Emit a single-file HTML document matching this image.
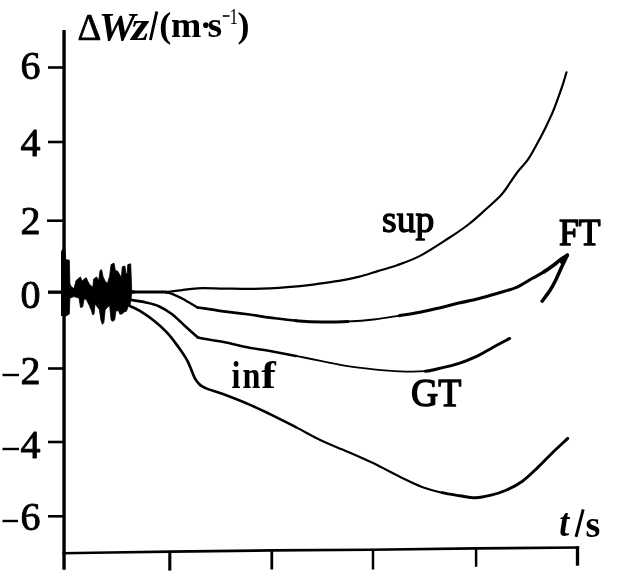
<!DOCTYPE html>
<html><head><meta charset="utf-8"><title>chart</title>
<style>html,body{margin:0;padding:0;background:#fff;}svg{display:block;filter:grayscale(1);}</style>
</head><body>
<svg width="618" height="585" viewBox="0 0 618 585">
<rect width="618" height="585" fill="#fff"/>
<g stroke="#000" fill="none" stroke-linecap="butt">
<!-- axes -->
<line x1="64.05" y1="30" x2="64.05" y2="569.8" stroke-width="3.4"/>
<polyline points="62.4,553.2 110,552.5 170,551.6 272,550.4 370,549.8 476,548.4 579.1,547.5" stroke-width="2.6" stroke-linejoin="round"/>
<!-- y ticks -->
<g stroke-width="2.6">
<line x1="48" y1="67.5" x2="63" y2="67.5"/>
<line x1="48" y1="142" x2="63" y2="142"/>
<line x1="47" y1="220.7" x2="63" y2="220.7"/>
<line x1="48" y1="292.4" x2="63" y2="292.4"/>
<line x1="48" y1="368.5" x2="63" y2="368.5"/>
<line x1="48" y1="442" x2="63" y2="442"/>
<line x1="48" y1="516.3" x2="63" y2="516.3"/>
</g>
<!-- x ticks -->
<line x1="169.8" y1="551" x2="169.8" y2="570.6" stroke-width="3.1"/>
<line x1="271.8" y1="550" x2="271.8" y2="569.5" stroke-width="2.8"/>
<line x1="373" y1="549.5" x2="373" y2="569.5" stroke-width="2.5"/>
<line x1="476.1" y1="548" x2="476.1" y2="566.8" stroke-width="2.5"/>
<line x1="577.5" y1="546.3" x2="577.5" y2="565.7" stroke-width="3.3"/>
<!-- curves -->
<g stroke-linejoin="round" stroke-linecap="round">
<path d="M130.4,292.0C136.4,292.0 160.6,292.0 166.6,292.0" stroke-width="3.0"/>
<path d="M166.6,292.0C168.8,291.7 174.8,290.9 180.0,290.3C185.2,289.7 190.4,288.6 197.7,288.3C205.0,288.0 215.0,288.5 223.6,288.6C232.2,288.7 241.8,288.9 249.5,288.9C257.2,288.9 261.6,288.8 270.0,288.4C278.4,287.9 291.8,287.0 300.0,286.2C308.2,285.4 312.9,284.6 319.4,283.7C325.9,282.8 332.3,281.9 338.8,280.8C345.3,279.7 351.8,278.5 358.3,276.9C364.8,275.3 371.2,273.1 377.7,271.1C384.2,269.2 390.1,267.7 397.1,265.2C404.2,262.7 411.6,260.3 420.0,255.9C428.4,251.5 439.6,244.0 447.7,238.8C455.8,233.6 461.9,229.5 468.4,224.5C474.9,219.5 481.3,213.4 486.5,208.8C491.7,204.2 496.3,200.0 499.5,196.8C502.7,193.6 502.5,193.6 505.5,189.5C508.5,185.4 513.8,176.9 517.5,172.0C521.2,167.1 524.4,164.6 527.7,159.9C531.0,155.2 534.1,149.1 537.1,143.7C540.1,138.3 543.1,132.5 545.6,127.4C548.1,122.3 550.4,117.6 552.4,112.9C554.4,108.2 555.9,104.0 557.6,99.3C559.3,94.6 561.2,89.3 562.7,84.8C564.2,80.3 565.9,74.4 566.5,72.3" stroke-width="2.2"/>
<path d="M166.0,292.3C167.0,292.6 169.3,292.8 172.0,293.8C174.7,294.8 177.8,296.2 182.1,298.5C186.4,300.8 195.1,306.0 197.7,307.5" stroke-width="2.4"/>
<path d="M197.7,307.5C199.8,307.8 206.3,308.8 210.6,309.4C214.9,310.0 217.1,310.5 223.6,311.4C230.1,312.2 241.8,313.5 249.5,314.5C257.2,315.5 262.3,316.6 270.0,317.6C277.7,318.6 287.3,320.0 295.9,320.7" stroke-width="2.7"/>
<path d="M295.9,320.7C304.5,321.4 313.2,321.9 321.8,322.0C330.4,322.1 339.1,321.9 347.7,321.5" stroke-width="3.0"/>
<path d="M347.7,321.5C356.3,321.1 365.0,320.5 373.6,319.5C382.2,318.5 391.8,316.8 399.5,315.6" stroke-width="1.9"/>
<path d="M399.5,315.6C407.2,314.4 413.4,313.5 420.0,312.2C426.6,310.9 432.9,309.4 439.4,307.9C445.9,306.4 452.3,304.6 458.8,303.1C465.3,301.6 471.8,300.3 478.3,298.7C484.8,297.1 491.2,295.2 497.7,293.3C504.2,291.4 511.4,289.6 517.1,287.1C522.8,284.6 527.5,281.0 532.0,278.5C536.5,276.0 540.3,274.1 543.9,271.9" stroke-width="3.1"/>
<path d="M543.9,271.9C547.5,269.7 550.7,267.4 553.5,265.3C556.3,263.2 558.4,261.1 560.7,259.4C563.0,257.7 566.2,255.9 567.3,255.2" stroke-width="3.6"/>
<path d="M567.3,255.2C566.4,257.1 563.8,262.4 561.9,266.5C560.0,270.6 557.9,275.7 555.9,279.7C553.9,283.7 552.2,286.9 549.9,290.5C547.6,294.1 543.4,299.4 542.1,301.2" stroke-width="3.5"/>
<path d="M130.4,299.8C133.0,300.2 141.2,301.3 145.9,302.4C150.6,303.5 154.5,304.3 158.8,306.2C163.1,308.1 167.5,310.8 171.8,314.0C176.1,317.2 180.4,321.8 184.7,325.7C189.0,329.6 195.5,335.4 197.7,337.3" stroke-width="2.6"/>
<path d="M197.7,337.3C198.5,337.5 198.5,337.8 202.8,338.6C207.1,339.4 215.8,340.5 223.6,342.0C231.4,343.5 241.8,346.2 249.5,347.7C257.2,349.2 262.3,349.6 270.0,351.0C277.7,352.4 287.3,354.2 295.9,355.9" stroke-width="2.5"/>
<path d="M295.9,355.9C304.5,357.6 313.2,359.4 321.8,361.1C330.4,362.8 339.1,364.8 347.7,366.2C356.3,367.6 364.9,368.5 373.6,369.4C382.3,370.3 391.4,371.1 400.0,371.4C408.6,371.7 418.7,371.7 425.2,371.2" stroke-width="1.8"/>
<path d="M425.2,371.2C431.7,370.7 433.3,369.8 438.8,368.5C444.3,367.2 451.8,365.8 458.3,363.7C464.8,361.6 471.9,358.6 477.7,355.9C483.5,353.1 487.9,350.1 493.2,347.2C498.5,344.3 506.9,339.9 509.7,338.4" stroke-width="2.9"/>
<path d="M130.4,306.2C132.1,307.1 136.8,309.0 140.7,311.4C144.6,313.8 149.4,317.1 153.7,320.5C158.0,323.9 162.7,328.0 166.6,332.1C170.5,336.2 173.6,340.4 177.0,345.1C180.4,349.9 184.3,355.0 187.3,360.6C190.3,366.2 192.9,374.6 195.1,378.7C197.3,382.8 199.4,384.1 200.3,385.2" stroke-width="2.7"/>
<path d="M200.3,385.2C201.6,385.9 204.1,387.6 208.0,389.1C211.9,390.6 216.7,391.7 223.6,394.3C230.5,396.9 241.8,401.3 249.5,404.6C257.2,407.9 262.3,410.4 270.0,414.1C277.7,417.9 287.3,422.7 295.9,427.1" stroke-width="2.6"/>
<path d="M295.9,427.1C304.5,431.6 313.2,436.7 321.8,440.8C330.4,444.9 339.1,447.9 347.7,451.7C356.3,455.4 364.8,459.1 373.6,463.3C382.4,467.6 392.7,473.3 400.7,477.2C408.7,481.1 414.5,484.1 421.4,486.7C428.3,489.3 435.7,491.2 442.1,492.7" stroke-width="2.2"/>
<path d="M442.1,492.7C448.5,494.2 454.4,494.9 460.0,495.8C465.6,496.7 470.3,497.9 475.5,497.8C480.7,497.7 485.9,496.5 491.1,495.2C496.3,493.9 501.4,492.3 506.6,490.0C511.8,487.7 516.9,485.2 522.1,481.5C527.3,477.8 532.5,472.5 537.7,467.6C542.9,462.7 548.2,456.9 553.2,452.0C558.2,447.1 565.4,440.7 567.8,438.4" stroke-width="2.9"/>
</g>
</g>
<polygon points="567.8,254.8 559.5,261.5 562,266" fill="#000"/>
<!-- noise blob -->
<polygon points="65.5,259.5 69.3,260.2 69.9,283.5 71.0,286.4 73.9,288.6 76.1,280.6 78.3,278.4 80.5,276.9 81.9,281.3 84.1,279.1 86.3,277.7 87.8,281.3 89.9,284.9 92.9,287.1 93.6,279.1 96.5,276.9 98.7,280.6 100.1,270.4 101.6,269.7 103.1,276.9 105.2,281.3 107.4,283.5 109.6,276.2 111.1,264.6 114.0,263.1 115.4,270.4 117.6,271.1 119.8,274.8 121.3,277.7 122.3,266.7 124.9,266.0 125.9,273.3 127.1,274.0 127.8,264.6 130.7,263.8 131.7,289.3 131.7,293.7 130.0,305.3 127.8,307.5 126.4,311.2 124.2,311.9 122.0,314.1 119.8,314.1 118.3,310.4 115.9,311.2 114.7,319.9 112.5,321.4 111.1,319.9 109.6,305.3 107.4,307.5 105.2,309.7 103.8,322.8 102.3,324.3 100.9,319.9 99.4,309.7 97.2,306.8 95.0,303.9 94.0,314.1 92.6,314.8 91.4,310.4 89.2,305.3 86.3,299.5 84.1,298.8 82.7,306.8 80.5,307.5 79.0,298.1 73.9,296.6 69.9,298.1 69.3,314.1 65.5,316.3" fill="#000" stroke="#000" stroke-width="0.8" stroke-linejoin="round"/>
<polygon points="61,252 62,249.5 65.3,249.5 66,258 66,316 61,316" fill="#000"/>
<line x1="48" y1="292" x2="135" y2="292" stroke="#000" stroke-width="3"/>
<!-- text -->
<g font-family="'Liberation Serif', serif" fill="#000">
<g font-size="40" stroke="#000" stroke-width="0.9" stroke-linejoin="round">
<text x="20.5" y="79.3">6</text>
<text x="20.5" y="156.2">4</text>
<text x="20.5" y="233.5">2</text>
<text x="20.5" y="308">0</text>
<text x="20.5" y="384.2">2</text>
<text x="20.5" y="458.2">4</text>
<text x="20.5" y="530">6</text>
</g>
<g stroke="#000" stroke-width="2.4">
<line x1="2.5" y1="375" x2="19" y2="375"/>
<line x1="2.5" y1="449" x2="19" y2="449"/>
<line x1="2.5" y1="521" x2="18" y2="521"/>
</g>
<g font-weight="bold" font-size="35">
<text x="382" y="231.6" textLength="52.4" lengthAdjust="spacingAndGlyphs" font-size="37" font-weight="normal" stroke="#000" stroke-width="1.3" stroke-linejoin="round">sup</text>
<text transform="translate(231.6,388.3) scale(0.85,1.0)" font-size="38" font-weight="bold" font-style="normal">i</text><text transform="translate(242.6,388.3) scale(0.85,1.0)" font-size="38" font-weight="bold" font-style="normal">n</text><text transform="translate(261.3,388.3) scale(1.15,1.0)" font-size="38" font-weight="bold" font-style="normal">f</text>
<text x="559" y="244.7" textLength="41.6" lengthAdjust="spacingAndGlyphs" font-size="38.4" font-weight="normal" stroke="#000" stroke-width="1.5" stroke-linejoin="round">FT</text>
<text x="410.9" y="406.1" textLength="50.4" lengthAdjust="spacingAndGlyphs" font-size="40" font-weight="normal" stroke="#000" stroke-width="1.4" stroke-linejoin="round">GT</text>
<text x="559.3" y="535.7" font-style="italic" font-size="40" textLength="9.9" lengthAdjust="spacingAndGlyphs">t</text>
<line x1="576" y1="536.8" x2="583.2" y2="509.3" stroke="#000" stroke-width="2.9"/>
<text x="585.4" y="537" font-size="38">s</text>
<!-- title -->
<text x="77.5" y="39.8" font-size="37" font-weight="normal" stroke="#000" stroke-width="0.7">Δ</text>
<text transform="translate(98.8,39.8) scale(1.06,1.0)" font-size="39" font-weight="bold" font-style="italic">W</text><text transform="translate(131.3,39.8) scale(1.12,1.0)" font-size="41.4" font-weight="bold" font-style="italic">z</text>
<line x1="150.4" y1="40" x2="156.8" y2="11.5" stroke="#000" stroke-width="2.9"/>
<text x="159.2" y="37" font-size="36">(</text>
<text x="171" y="36.6" font-size="35" textLength="30.3" lengthAdjust="spacingAndGlyphs">m</text>
<text x="200" y="36.6" font-size="35">·</text>
<text x="207.4" y="36.6" font-size="35" textLength="14.6" lengthAdjust="spacingAndGlyphs">s</text>
<text x="229.6" y="23.6" font-size="23" font-weight="normal" textLength="8.5" lengthAdjust="spacingAndGlyphs">1</text>
<text x="237.5" y="37" font-size="36">)</text>
</g>
<line x1="222.8" y1="16" x2="229.5" y2="16" stroke="#000" stroke-width="1.6"/>
</g>
</svg>
</body></html>
